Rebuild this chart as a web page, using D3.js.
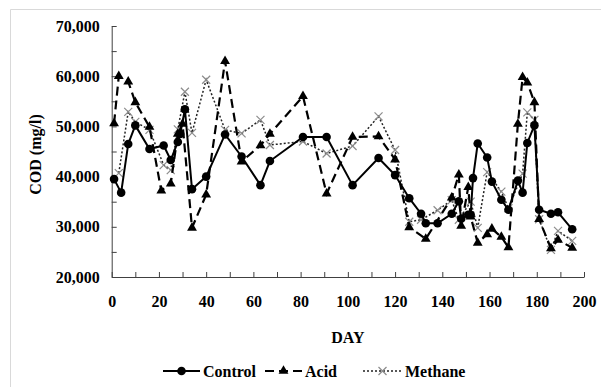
<!DOCTYPE html>
<html>
<head>
<meta charset="utf-8">
<script src="https://cdn.jsdelivr.net/npm/d3@7"></script>
<style>
  body { margin: 0; background: #fff; }
</style>
</head>
<body>
<div id="chart"></div>
<script>
// day, COD (mg/l)
var controlData = [
  [1,39500],[4,36800],[7,46500],[10,50200],[16,45500],[22,46200],[25,43300],[28,46900],[29,48500],
  [31,53400],[34,37500],[40,40000],[48,48400],[55,44000],[63,38300],[67,43100],[81,47900],[91,47900],
  [102,38300],[113,43700],[120,40300],[126,35700],[131,32600],[133,30700],[138,30700],[144,32600],
  [147,35100],[148,31600],[151,32400],[152,32400],[153,39700],[155,46600],[159,43800],[161,39000],
  [165,35400],[168,33400],[172,39200],[174,36800],[176,46700],[179,50200],[181,33400],[186,32600],
  [189,32900],[195,29500]
];
var acidData = [
  [1,50600],[3,60000],[7,58900],[10,54800],[16,49900],[21,37200],[25,38600],[28,48500],[30,50500],
  [34,29800],[40,36400],[48,63000],[55,43000],[63,46200],[67,48500],[81,56000],[91,36600],[102,47900],
  [113,48000],[120,43400],[126,29900],[133,27600],[144,35800],[147,40400],[148,30200],[151,37900],
  [152,32000],[155,26800],[159,28500],[161,29600],[165,28000],[168,25900],[172,50500],[174,59800],
  [176,58700],[179,54800],[181,31500],[186,25700],[189,27400],[195,25800]
];
var methaneData = [
  [3,40700],[7,52900],[10,50900],[16,49300],[22,42300],[25,41300],[28,49400],[31,56900],[34,48700],
  [40,59300],[48,49300],[55,48600],[63,51300],[67,46300],[81,47000],[91,44600],[102,46100],[113,52000],
  [120,45300],[126,31000],[131,31400],[138,33300],[144,35300],[147,31400],[152,35000],[155,29800],
  [159,40900],[165,37000],[168,33700],[174,40600],[176,52800],[179,51300],[181,31500],[186,25400],
  [189,29200],[195,27200]
];
var seriesNames = ['Control', 'Acid', 'Methane'];
var xTicks = d3.range(0, 201, 10);
var yTicks = d3.range(20000, 70001, 5000);

var FONT = '"Liberation Serif", "Times New Roman", "DejaVu Serif", serif';

var W = 601, H = 387;
var margin = {top: 26, left: 111.7, right: 17, bottom: 110};
var width = W - margin.left - margin.right,
    height = H - margin.top - margin.bottom;

var svg = d3.select('#chart').append('svg')
    .attr('width', W).attr('height', H)
    .attr('font-family', FONT)
    .attr('font-weight', 'bold')
    .attr('font-size', 16);

// chart area border (only top/left visible in the crop)
svg.append('path')
    .attr('d', 'M10.5,' + H + 'V9.5H' + W)
    .attr('fill', 'none').attr('stroke', '#d9d9d9');

var g = svg.append('g')
    .attr('transform', 'translate(' + margin.left + ',' + margin.top + ')');

var x = d3.scaleLinear().domain([0, 200]).range([0, width]);
var y = d3.scaleLinear().domain([20000, 70000]).range([height, 0]);

var fmt = d3.format(',');

var yAxis = d3.axisLeft(y).tickValues(yTicks).tickSizeInner(-5).tickSizeOuter(0).tickPadding(12)
    .tickFormat(function(d) { return d % 10000 === 0 ? fmt(d) : ''; });
var xAxis = d3.axisBottom(x).tickValues(xTicks).tickSizeInner(-5).tickSizeOuter(0)
    .tickFormat(function(d) { return d % 20 === 0 ? d : ''; });

var gy = g.append('g').call(yAxis);
var gx = g.append('g').attr('transform', 'translate(0,' + height + ')').call(xAxis);
[gx, gy].forEach(function(a) {
  a.attr('font-family', FONT).attr('font-size', 16);
  a.selectAll('.domain, .tick line').attr('stroke', '#404040');
  a.selectAll('text').style('font-family', FONT).style('font-weight', 'bold').attr('fill', '#000');
});
gx.selectAll('text').attr('y', 25).attr('dy', '0.32em');

// axis titles
svg.append('text')
    .attr('transform', 'translate(35,' + (margin.top + height / 2 + 3) + ') rotate(-90)')
    .attr('text-anchor', 'middle').attr('dy', '0.35em')
    .style('font-family', FONT)
    .text('COD (mg/l)');
svg.append('text')
    .attr('x', margin.left + width / 2).attr('y', 337)
    .attr('text-anchor', 'middle').attr('dy', '0.35em')
    .style('font-family', FONT)
    .text('DAY');

var line = d3.line().x(function(d) { return x(d[0]); }).y(function(d) { return y(d[1]); });

var styles = {
  Control: {data: controlData, stroke: '#000', width: 2, dash: null},
  Acid: {data: acidData, stroke: '#000', width: 2.2, dash: '9,5'},
  Methane: {data: methaneData, stroke: '#222', width: 1.5, dash: '2,2'}
};

function drawMarker(sel, name) {
  if (name === 'Control') {
    sel.append('circle').attr('r', 4.3).attr('fill', '#000');
  } else if (name === 'Acid') {
    sel.append('path').attr('d', d3.symbol().type(d3.symbolTriangle).size(42)).attr('fill', '#000');
  } else {
    sel.append('path').attr('d', 'M-4,-4L4,4M-4,4L4,-4')
        .attr('stroke', '#8c8c8c').attr('stroke-width', 1.2).attr('fill', 'none');
  }
}

// draw methane first, then acid, then control on top
['Methane', 'Acid', 'Control'].forEach(function(name) {
  var s = styles[name];
  g.append('path').datum(s.data)
      .attr('d', line)
      .attr('fill', 'none')
      .attr('stroke', s.stroke)
      .attr('stroke-width', s.width)
      .attr('stroke-dasharray', s.dash);
  g.selectAll('.m-' + name).data(s.data).enter().append('g')
      .attr('class', 'm-' + name)
      .attr('transform', function(d) { return 'translate(' + x(d[0]) + ',' + y(d[1]) + ')'; })
      .each(function() { drawMarker(d3.select(this), name); });
});

// legend
var legendPos = {Control: [163, 203], Acid: [265, 305], Methane: [363, 405]};
var legend = svg.append('g').attr('transform', 'translate(0,371)');
seriesNames.forEach(function(name) {
  var s = styles[name], p = legendPos[name];
  legend.append('line')
      .attr('x1', p[0]).attr('x2', p[1] - 3)
      .attr('stroke', s.stroke).attr('stroke-width', s.width)
      .attr('stroke-dasharray', s.dash);
  var m = legend.append('g').attr('transform', 'translate(' + ((p[0] + p[1] - 3) / 2) + ',0)');
  drawMarker(m, name);
  legend.append('text').attr('x', p[1]).attr('dy', '0.35em')
      .style('font-family', FONT).text(name);
});
</script>
</body>
</html>
